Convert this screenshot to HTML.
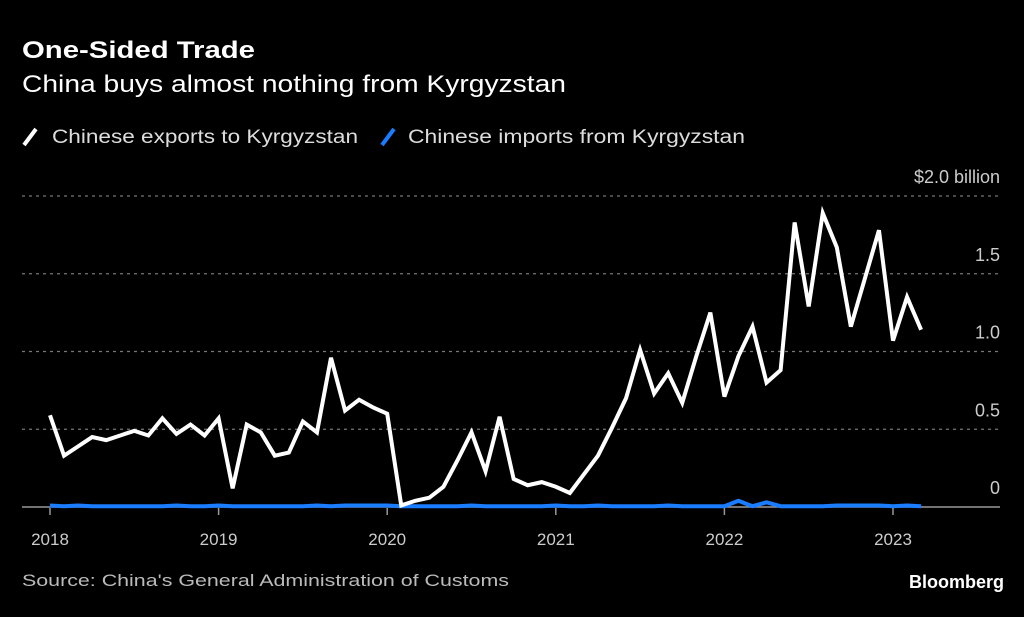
<!DOCTYPE html>
<html><head><meta charset="utf-8"><style>
body{margin:0;background:#000;width:1024px;height:612px;overflow:hidden;font-family:"Liberation Sans",sans-serif;color:#fff}
</style></head><body>
<svg width="1024" height="612">
<text x="22" y="58" font-size="24" font-weight="bold" fill="#fff" textLength="233" lengthAdjust="spacingAndGlyphs">One-Sided Trade</text>
<text x="22" y="92" font-size="24" fill="#fff" textLength="544" lengthAdjust="spacingAndGlyphs">China buys almost nothing from Kyrgyzstan</text>
<g>
<line x1="24" y1="145" x2="36" y2="129" stroke="#fff" stroke-width="4"/>
<text x="52" y="143" font-size="19" fill="#ddd" textLength="306" lengthAdjust="spacingAndGlyphs">Chinese exports to Kyrgyzstan</text>
<line x1="382" y1="145" x2="394" y2="129" stroke="#1a7cff" stroke-width="4"/>
<text x="408" y="143" font-size="19" fill="#ddd" textLength="337" lengthAdjust="spacingAndGlyphs">Chinese imports from Kyrgyzstan</text>
</g>
<g id="grid"></g><g id="axes"></g><g id="series"></g>
<text x="22" y="586" font-size="17" fill="#bbb" textLength="487" lengthAdjust="spacingAndGlyphs">Source: China's General Administration of Customs</text>
<text x="1004" y="588" font-size="18" font-weight="bold" fill="#fff" text-anchor="end">Bloomberg</text>
</svg>
<script>
const yTicks=[0,0.5,1.0,1.5,2.0];
const yTickLabels=["0","0.5","1.0","1.5","$2.0 billion"];
const xYears=[2018,2019,2020,2021,2022,2023];
const exportsVals=[0.59,0.33,0.39,0.45,0.43,0.46,0.49,0.46,0.57,0.47,0.53,0.46,
0.57,0.12,0.53,0.48,0.33,0.35,0.55,0.48,0.96,0.62,0.69,0.64,
0.60,0.01,0.04,0.06,0.13,0.30,0.48,0.23,0.58,0.18,0.14,0.16,
0.13,0.09,0.21,0.33,0.51,0.70,1.01,0.73,0.86,0.67,0.97,1.25,
0.71,0.97,1.16,0.80,0.88,1.83,1.29,1.89,1.67,1.16,1.47,1.78,
1.07,1.35,1.14];
const importsVals=[0.01,0.005,0.01,0.005,0.005,0.005,0.005,0.005,0.005,0.01,0.005,0.005,
0.01,0.005,0.005,0.005,0.005,0.005,0.005,0.01,0.005,0.01,0.01,0.01,
0.01,0.005,0.005,0.005,0.005,0.005,0.01,0.005,0.005,0.005,0.005,0.005,
0.01,0.005,0.005,0.01,0.005,0.005,0.005,0.005,0.01,0.005,0.005,0.005,
0.005,0.04,0.005,0.03,0.005,0.005,0.005,0.005,0.01,0.01,0.01,0.01,
0.005,0.01,0.005,0.005];
const NS="http://www.w3.org/2000/svg";
function xPos(i){return 50+i*168.6/12;}
function yPos(v){return 507-v*155.5;}
function mk(tag,attrs,parent){const e=document.createElementNS(NS,tag);for(const k in attrs)e.setAttribute(k,attrs[k]);parent.appendChild(e);return e;}
const grid=document.getElementById('grid'),axes=document.getElementById('axes'),series=document.getElementById('series');
yTicks.forEach((v,i)=>{
  const y=yPos(v);
  const l=mk('line',{x1:22,x2:1000,y1:y,y2:y,stroke:v===0?'#999':'#777','stroke-width':v===0?1.5:1.2,'stroke-dasharray':v===0?'none':'3,4'},grid);
  
  
  const t=mk('text',{x:1000,y:y-13,'font-size':18,fill:'#ccc','text-anchor':'end'},axes);
  t.textContent=yTickLabels[i];
  
  
});
xYears.forEach((yr,i)=>{
  const x=xPos(i*12);
  const tk=mk('line',{x1:x,x2:x,y1:508,y2:515,stroke:'#999','stroke-width':1.5},axes);
  
  
  const t=mk('text',{x:x,y:545,'font-size':17,fill:'#ccc','text-anchor':'middle'},axes);
  t.textContent=yr;
  
  
});
const imp=mk('polyline',{points:importsVals.slice(0,exportsVals.length).map((v,i)=>xPos(i)+','+yPos(v)).join(' '),fill:'none',stroke:'#1a7cff','stroke-width':4,'stroke-linejoin':'round'},series);


const exp=mk('polyline',{points:exportsVals.map((v,i)=>xPos(i)+','+yPos(v)).join(' '),fill:'none',stroke:'#fff','stroke-width':4,'stroke-linejoin':'miter'},series);


</script>
</body></html>
